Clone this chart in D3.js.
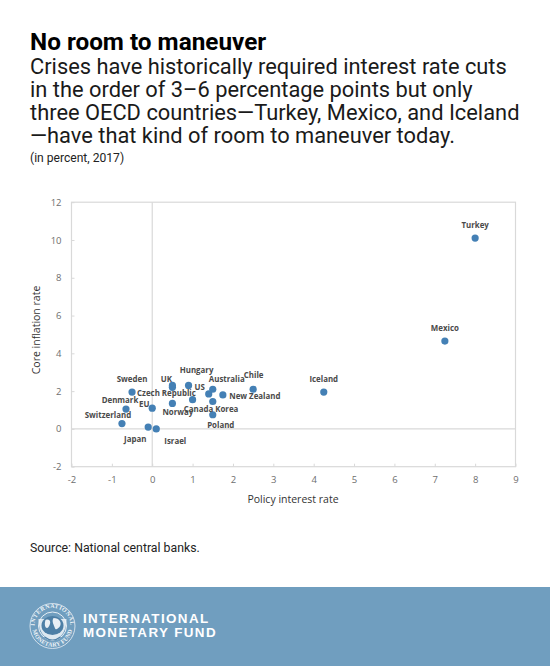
<!DOCTYPE html>
<html><head><meta charset="utf-8">
<script src="https://cdn.jsdelivr.net/npm/d3@7"></script>
<style>html,body{margin:0;padding:0;background:#fff}svg{display:block}</style></head>
<body><svg id="c" width="550" height="666"></svg>
<script>
const title = "No room to maneuver";
const subtitle = ["Crises have historically required interest rate cuts","in the order of 3–6 percentage points but only","three OECD countries—Turkey, Mexico, and Iceland","—have that kind of room to maneuver today."];
const note = "(in percent, 2017)";
const source = "Source: National central banks.";
const countries = ["Switzerland","Denmark","Sweden","EU","Japan","Israel","UK","Czech Republic","Norway","Hungary","Canada","US","Australia","Korea","Poland","New Zealand","Chile","Iceland","Mexico","Turkey"];
const policyRate = [-0.75,-0.65,-0.5,0,-0.1,0.1,0.5,0.5,0.5,0.9,1,1.4,1.5,1.5,1.5,1.75,2.5,4.25,7.25,8];
const coreInflation = [0.28,1.05,1.95,1.1,0.1,0,2.3,2.2,1.35,2.3,1.55,1.85,2.1,1.45,0.75,1.8,2.1,1.95,4.65,10.1];
const xTicks = [-2,-1,0,1,2,3,4,5,6,7,8,9];
const yTicks = [-2,0,2,4,6,8,10,12];
const labelShift = {Switzerland:[-14,-9],Denmark:[-6,-9],Sweden:[0,-13],EU:[-8,-4],Japan:[-13,12],Israel:[19,12],UK:[-6,-6],"Czech Republic":[-6,6],Norway:[5.5,9],Hungary:[8,-15],Canada:[6,9],US:[-9,-7],Australia:[14,-10],Korea:[14,7],Poland:[8,10],"New Zealand":[32,1],Chile:[0.5,-14],Iceland:[0,-13],Mexico:[0,-13],Turkey:[0,-13]};

const svg = d3.select("#c");
const x = d3.scaleLinear().domain([-2,9]).range([71.5,515.5]);
const y = d3.scaleLinear().domain([-2,12]).range([466.7,202.2]);
const R = "Roboto, sans-serif", O = "'Open Sans', sans-serif";

svg.append("text").attr("x",30).attr("y",50).attr("font-family",R).attr("font-weight",700).attr("font-size",24.3).attr("fill","#000").text(title);
svg.selectAll(".sub").data(subtitle).join("text").attr("class","sub").attr("x",30).attr("y",(d,i)=>74+i*23)
  .attr("font-family",R).attr("font-size",21.85).attr("fill","#1a1a1a").text(d=>d);
svg.append("text").attr("x",30).attr("y",162).attr("font-family",R).attr("font-size",12.1).attr("fill","#222").text(note);

const grid = "#d9d9d9";
svg.append("rect").attr("x",x(-2)).attr("y",y(12)).attr("width",x(9)-x(-2)).attr("height",y(-2)-y(12)).attr("fill","none").attr("stroke",grid).attr("stroke-width",1.2);
svg.append("line").attr("x1",x(0)).attr("x2",x(0)).attr("y1",y(12)).attr("y2",y(-2)).attr("stroke",grid).attr("stroke-width",1.2);
svg.append("line").attr("x1",x(-2)).attr("x2",x(9)).attr("y1",y(0)).attr("y2",y(0)).attr("stroke",grid).attr("stroke-width",1.2);

const gx = svg.append("g").attr("transform",`translate(0,${y(-2)})`).call(d3.axisBottom(x).tickValues(xTicks).tickSize(-3).tickPadding(10).tickFormat(d3.format("d")));
const gy = svg.append("g").attr("transform",`translate(${x(-2)},0)`).call(d3.axisLeft(y).tickValues(yTicks).tickSize(-3).tickPadding(10).tickFormat(d3.format("d")));
[gx,gy].forEach(g=>{g.select(".domain").remove();g.selectAll("line").attr("stroke",grid);
  g.selectAll("text").attr("font-family",O).attr("font-size",9.5).attr("fill","#6e6e6e");});
gx.selectAll("text").text(d=>String(d));gy.selectAll("text").text(d=>String(d));

svg.append("text").attr("x",293).attr("y",503).attr("text-anchor","middle").attr("font-family",O).attr("font-size",10.5).attr("fill","#333").text("Policy interest rate");
svg.append("text").attr("transform","translate(40,330) rotate(-90)").attr("text-anchor","middle").attr("font-family",O).attr("font-size",10.5).attr("fill","#333").text("Core inflation rate");

const g = svg.append("g");
g.selectAll("circle").data(countries).join("circle").attr("cx",(d,i)=>x(policyRate[i])).attr("cy",(d,i)=>y(coreInflation[i])).attr("r",3.6).attr("fill","#4480b5");
g.selectAll("text").data(countries).join("text")
  .attr("x",(d,i)=>x(policyRate[i])+labelShift[d][0]).attr("y",(d,i)=>y(coreInflation[i])+labelShift[d][1]+3)
  .attr("text-anchor","middle").attr("font-family",O).attr("font-weight",700).attr("font-size",7.9).attr("fill","#4a4a4a").text(d=>d);

svg.append("text").attr("x",30).attr("y",552).attr("font-family",R).attr("font-size",12.3).attr("fill","#222").text(source);

svg.append("rect").attr("x",0).attr("y",587).attr("width",550).attr("height",79).attr("fill","#709ebf");
const logo = svg.append("g").attr("transform","translate(52.5,626)");
logo.append("circle").attr("r",22.5).attr("fill","none").attr("stroke","#e8eff5").attr("stroke-width",0.8);
logo.append("circle").attr("r",14).attr("fill","none").attr("stroke","#e8eff5").attr("stroke-width",1);
logo.append("path").attr("d","M-14,-7 L14,-7 C14,8 6,13 0,15 C-6,13 -14,8 -14,-7 Z").attr("fill","#f0f4f8").attr("opacity",0.85);
logo.append("ellipse").attr("rx",11).attr("ry",9.5).attr("cy",-0.5).attr("fill","#4d7fa6");
logo.append("path").attr("d","M-7,-6 C-2,-8 -1,-3 -4,1 C-6,4 -9,0 -7,-6 Z M1,-8 C7,-8 10,-3 7,1 C5,3 3,5 2,1 C1,-2 -1,-5 1,-8 Z").attr("fill","#e8eff5");
logo.append("path").attr("d","M-8,11 Q0,17 8,11").attr("fill","none").attr("stroke","#4d7fa6").attr("stroke-width",1.2);
logo.append("defs").html('<path id="arcT" d="M-17.5,4 A18,18 0 1 1 17.5,4"/><path id="arcB" d="M-19.5,5 A20,20 0 0 0 19.5,5"/>');
const arc=(id,t,s)=>logo.append("text").attr("font-family","'Liberation Serif',serif").attr("font-size",6).attr("font-weight",700).attr("fill","#eef3f7").attr("letter-spacing",s).attr("text-anchor","middle")
  .append("textPath").attr("href","#"+id).attr("startOffset","50%").text(t);
arc("arcT","INTERNATIONAL",0.4);arc("arcB","MONETARY FUND",0.2);
[["INTERNATIONAL",623],["MONETARY FUND",637]].forEach(([t,yy])=>svg.append("text").attr("x",83).attr("y",yy).attr("font-family","'Liberation Sans',sans-serif").attr("font-weight",700).attr("font-size",13.4).attr("letter-spacing",1.4).attr("fill","#fff").text(t));
</script></body></html>
